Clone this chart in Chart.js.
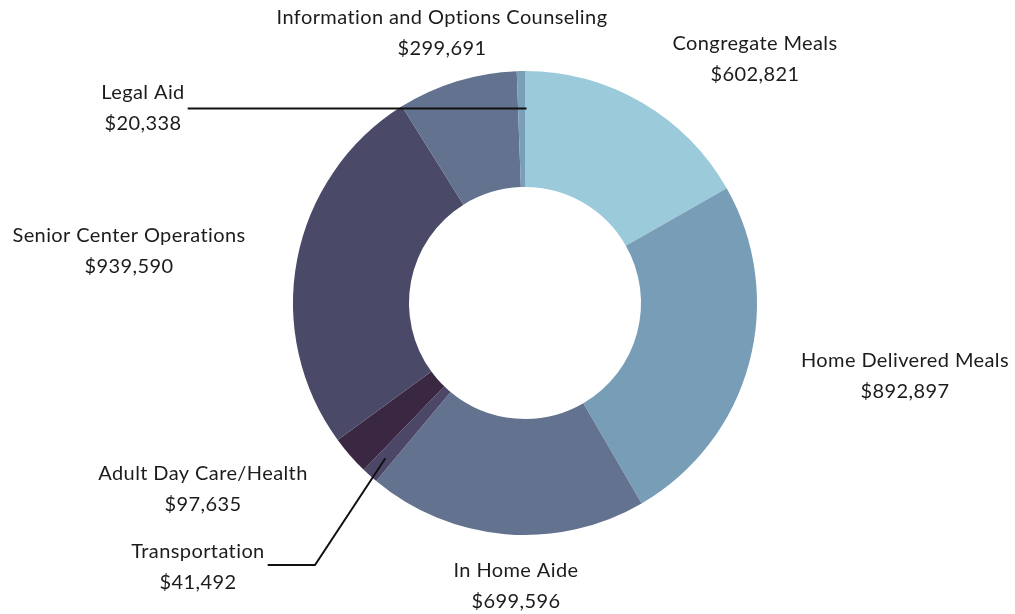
<!DOCTYPE html>
<html>
<head>
<meta charset="utf-8">
<script src="https://cdn.jsdelivr.net/npm/chart.js@4.4.1/dist/chart.umd.min.js"></script>
<style>
  html, body { margin: 0; padding: 0; background: #fff; }
  #chart { display: block; }
</style>
</head>
<body>
<canvas id="chart" width="1015" height="614"></canvas>
<script>
// data
var categories = ["Congregate Meals", "Home Delivered Meals", "In Home Aide", "Transportation",
  "Adult Day Care/Health", "Senior Center Operations", "Information and Options Counseling", "Legal Aid"];
var amounts = [602821, 892897, 699596, 41492, 97635, 939590, 299691, 20338];
var sliceColors = ["#9bcadb", "#789eb7", "#63738f", "#4c4767", "#3a2843", "#4a4968", "#63738f", "#7a9fb8"];

// where each label sits (center x, middle of first line), layout only
var labelPos = [
  [755, 44], [905, 361], [516, 571], [198, 552],
  [203, 474], [129, 236], [442, 18], [143, 93]
];

function money(v) {
  return "$" + v.toLocaleString("en-US");
}

var outsideLabels = {
  id: "outsideLabels",
  afterDraw: function (chart) {
    var ctx = chart.ctx;
    var meta = chart.getDatasetMeta(0);
    ctx.save();
    ctx.font = "20px Lato";
    ctx.letterSpacing = "0.4px";
    ctx.fillStyle = "#1c1c1c";
    ctx.textAlign = "center";
    ctx.textBaseline = "middle";
    categories.forEach(function (name, i) {
      var p = labelPos[i];
      ctx.fillText(name, p[0], p[1]);
      ctx.fillText(money(amounts[i]), p[0], p[1] + 31);
    });

    // leader lines for the two thin slices
    ctx.strokeStyle = "#111";
    ctx.lineWidth = 2;
    [3, 7].forEach(function (i) {
      var arc = meta.data[i];
      var mid = (arc.startAngle + arc.endAngle) / 2;
      var r = arc.innerRadius + (arc.outerRadius - arc.innerRadius) * (i === 3 ? 0.8 : 0.67);
      var ax = arc.x + Math.cos(mid) * r;
      var ay = arc.y + Math.sin(mid) * r;
      var p = labelPos[i];
      var w = Math.max(ctx.measureText(categories[i]).width, ctx.measureText(money(amounts[i])).width);
      ctx.beginPath();
      if (i === 7) {
        var ly = p[1] + 15.5;
        ctx.moveTo(p[0] + w / 2 + 3, ly);
        ctx.lineTo(ax + 5, ly);
      } else {
        var ly2 = p[1] + 13;
        var lx = p[0] + ctx.measureText(categories[i]).width / 2 + 3;
        ctx.moveTo(lx, ly2);
        ctx.lineTo(315, ly2);
        ctx.lineTo(ax, ay);
      }
      ctx.stroke();
    });
    ctx.restore();
  }
};

new Chart(document.getElementById("chart"), {
  type: "doughnut",
  data: {
    labels: categories,
    datasets: [{
      data: amounts,
      backgroundColor: sliceColors,
      borderWidth: 0
    }]
  },
  options: {
    responsive: false,
    animation: false,
    cutout: "50%",
    layout: { padding: { top: 71, bottom: 79, left: 293, right: 258 } },
    plugins: {
      legend: { display: false },
      tooltip: { enabled: false }
    }
  },
  plugins: [outsideLabels]
});
</script>
</body>
</html>
